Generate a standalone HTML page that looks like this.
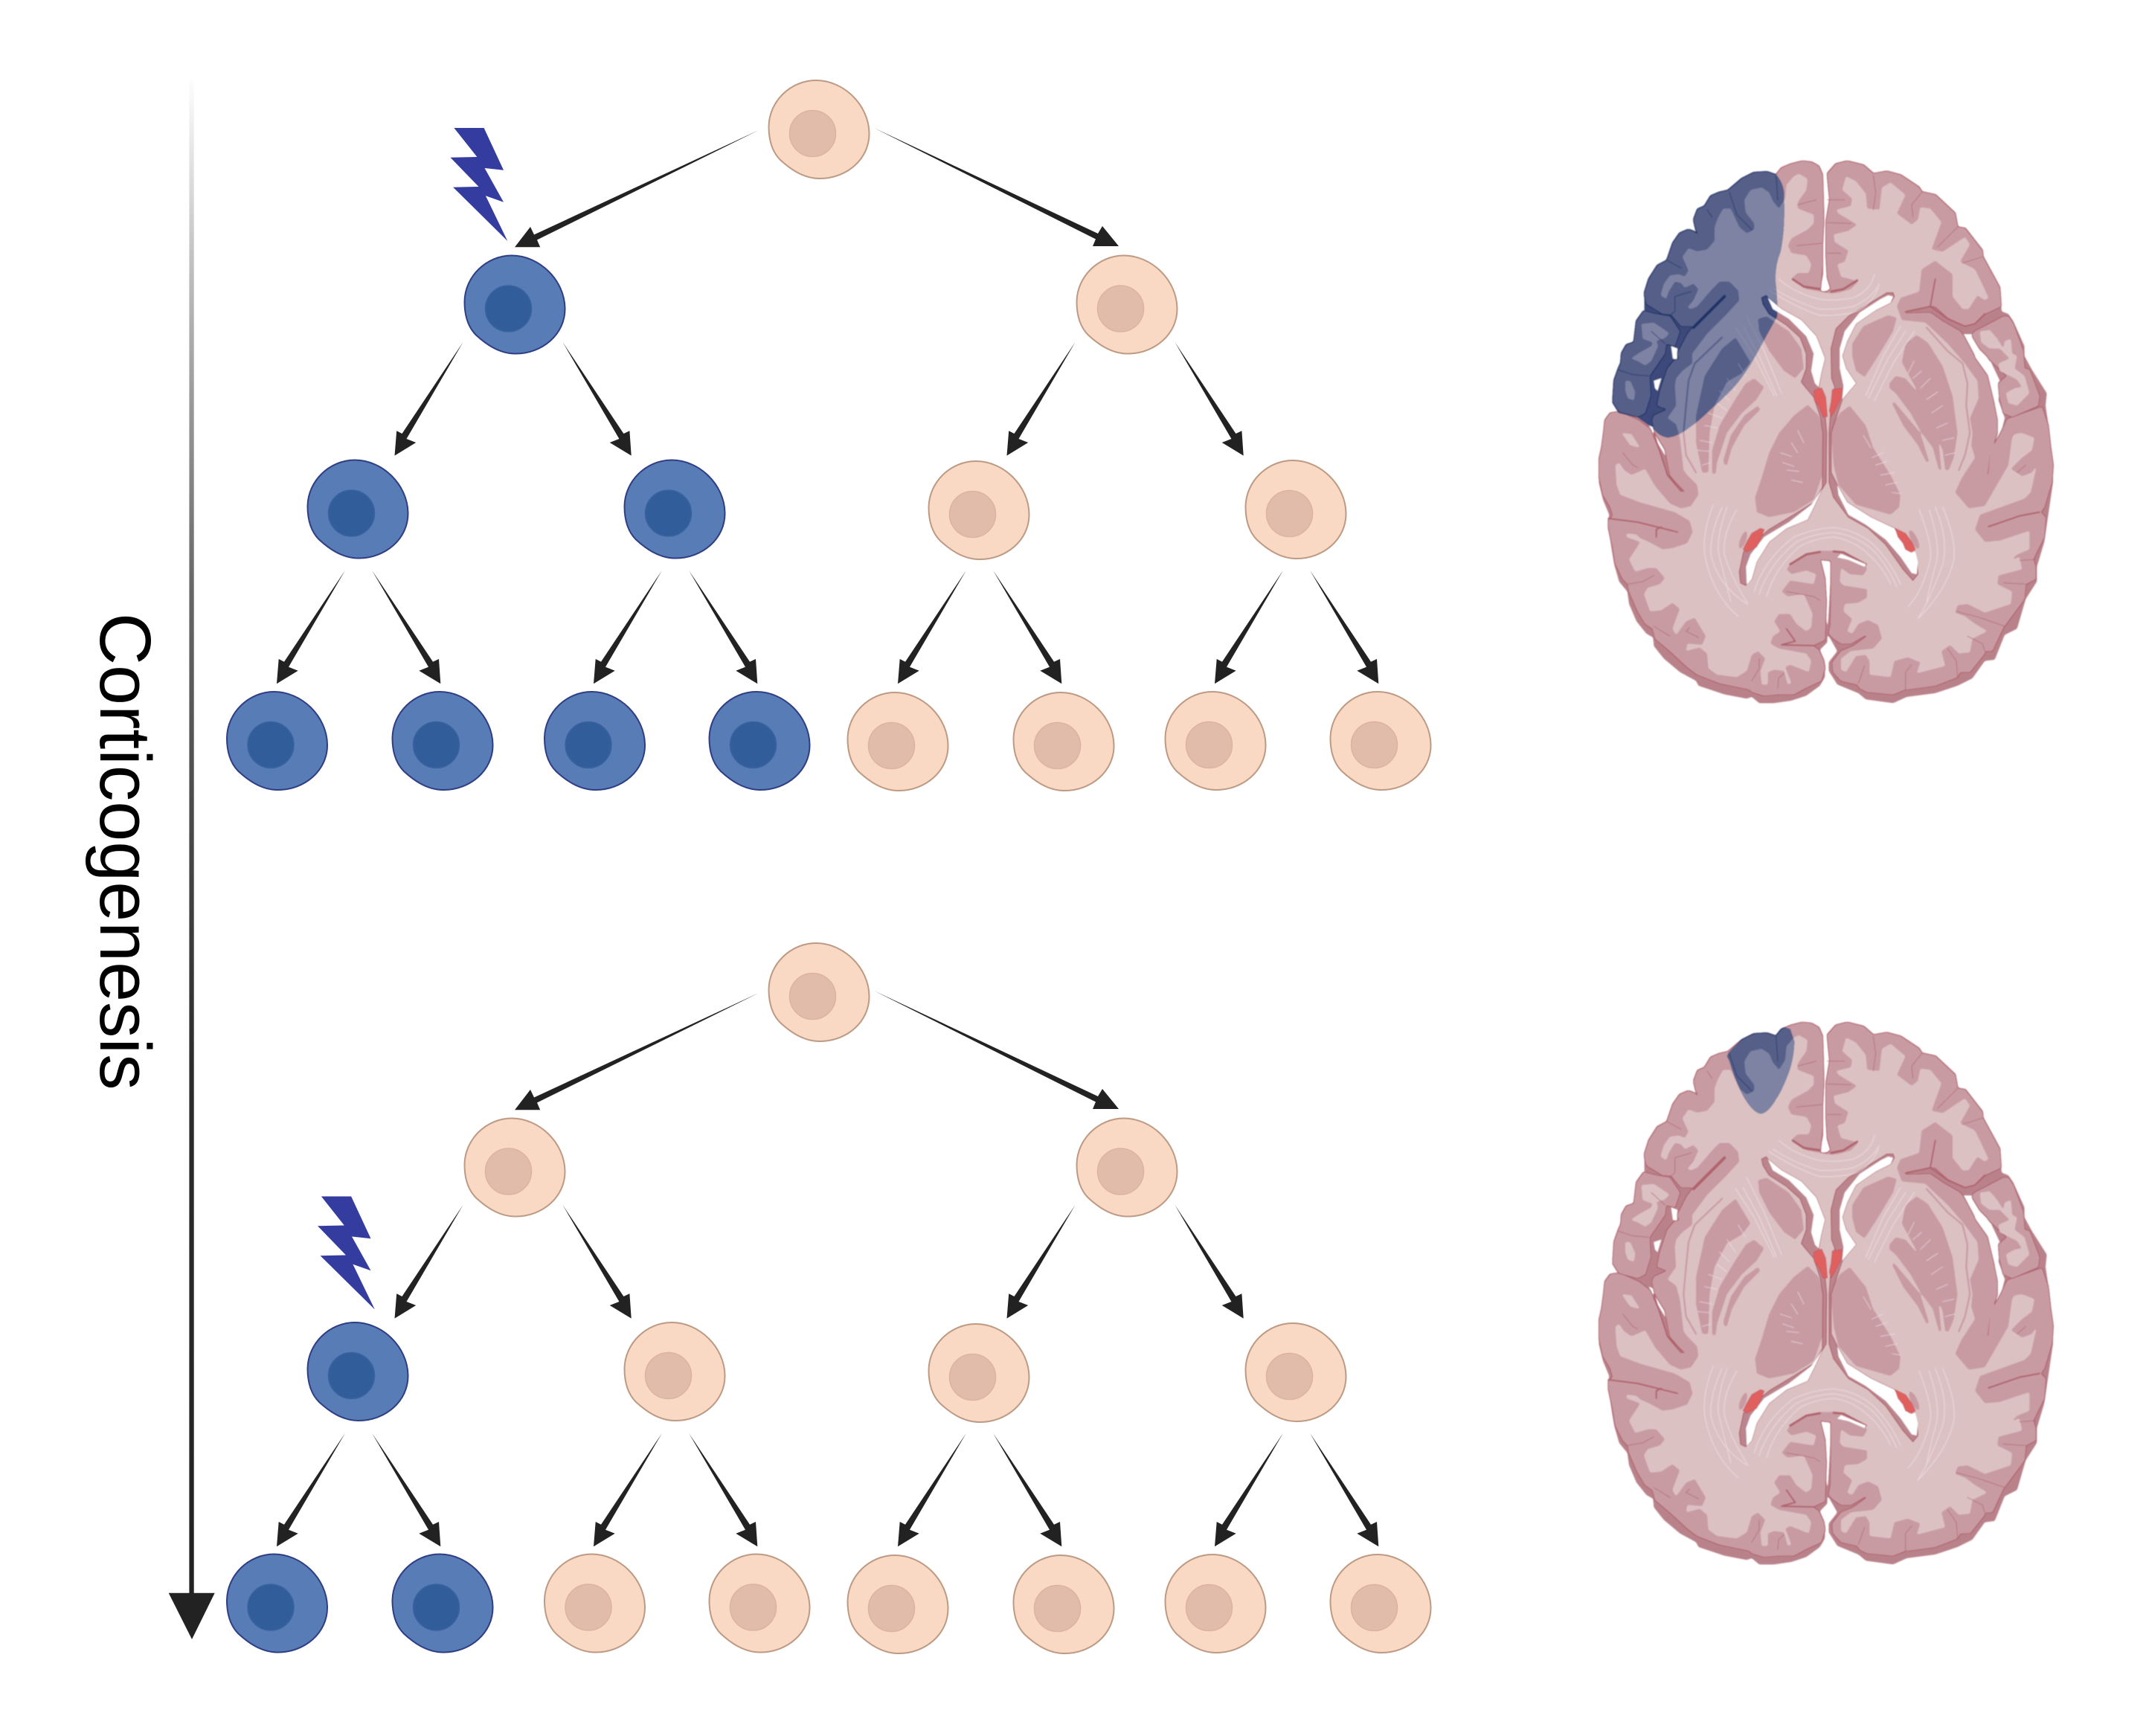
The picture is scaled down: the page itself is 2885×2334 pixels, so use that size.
<!DOCTYPE html>
<html lang="en"><head><meta charset="utf-8"><title>Corticogenesis</title>
<style>
html,body{margin:0;padding:0;background:#fff}
svg{display:block}
.sh{fill:var(--sh,#b9828a)}
.ol{fill:var(--ol,#b0626e)}
.cf{fill:var(--ct,#c89ba2)}
.wm{fill:var(--wm,#dcc1c3)}
.sl{fill:none;stroke:var(--ol,#b0626e);stroke-width:6;stroke-linecap:round;stroke-linejoin:round}
.th{fill:none;stroke:var(--ol,#b0626e);stroke-width:3;stroke-linecap:round;stroke-linejoin:round;opacity:.75}
.bg{fill:var(--ct,#c89ba2)}
.bl{fill:none;stroke:var(--ct,#c89ba2);stroke-width:7;stroke-linecap:round;stroke-linejoin:round}
.rim{fill:var(--sh,#bb858d);stroke:var(--ol,#b0626e);stroke-width:4;stroke-linejoin:round}
.red{fill:var(--rd,#e0605f);stroke:var(--ol,#b84f58);stroke-width:2;stroke-linejoin:round}
.st{fill:none;stroke:var(--sr,#eee2e2);stroke-width:3;stroke-linecap:round;stroke-linejoin:round;opacity:.8}
.alt{--sh:#3c4a7a;--ct:#555f88;--ol:#1c3266;--wm:#7e83a3;--rd:#7e83a3;--sr:#8d92ae}
</style></head>
<body>
<svg xmlns="http://www.w3.org/2000/svg" width="2885" height="2334" viewBox="0 0 2885 2334">
<defs>
<linearGradient id="ax" gradientUnits="userSpaceOnUse" x1="0" y1="100" x2="0" y2="2150">
<stop offset="0" stop-color="#fff"/><stop offset=".135" stop-color="#bbb"/><stop offset=".34" stop-color="#666"/><stop offset=".65" stop-color="#2c2c2c"/><stop offset="1" stop-color="#222"/>
</linearGradient>
<filter id="sm" filterUnits="userSpaceOnUse" x="-50" y="-50" width="2000" height="2400"><feGaussianBlur stdDeviation="2.2"/></filter>
<filter id="g" x="-5%" y="-5%" width="110%" height="110%" color-interpolation-filters="sRGB"><feGaussianBlur stdDeviation="4"/><feComponentTransfer><feFuncA type="linear" slope="10" intercept="-4.5"/></feComponentTransfer></filter>
<filter id="gd" x="-5%" y="-5%" width="110%" height="110%" color-interpolation-filters="sRGB"><feGaussianBlur stdDeviation="4"/><feComponentTransfer><feFuncA type="linear" slope="10" intercept="-4.5"/></feComponentTransfer><feMorphology operator="dilate" radius="3.5"/></filter>

<path id="cs" d="M-4-66C33-66 67-33 67.5 5 68 40 37 66 1 66-22 66-40 52-52 41-63 30-67.5 14-67.5-4-67-38-38-66-4-66Z"/>
<g id="p"><use href="#cs" fill="#f9d8c4" stroke="#bc9a84" stroke-width="2"/><circle cx="-8.5" cy="5.5" r="31" fill="#e2bcaa" stroke="#dcb3a2" stroke-width="1.5"/></g>
<g id="b"><use href="#cs" fill="#587cb5" stroke="#2e3d84" stroke-width="2"/><circle cx="-8.5" cy="5.5" r="31" fill="#315e9b" stroke="#3a649f" stroke-width="1.5"/></g>

<path id="al" fill="#222" d="M0 0L-76 130-63.3 135-92 152.6-89.3 119.3-82 123Z"/>
<path id="ar" fill="#222" d="M0 0L82 123 90 119.3 92.3 152.6 63.3 135 76 130Z"/>
<path id="bl" fill="#222" d="M0 0L-298 147.5-293.8 157.3-328 157.3-307 130-302 140.5Z"/>
<path id="br" fill="#222" d="M0 0L301 142 307 132 329 159 294 159 298 149.5Z"/>

<polygon id="bolt" fill="#343ca0" points="610.4,172 650.6,172 677,228.7 651.5,226 677,271.7 652.9,263.3 682.3,324 609.1,251.7 643.5,251 605.5,211.7 641.3,211"/>

<g id="tree">
<use href="#bl" x="1020" y="175"/><use href="#br" x="1175" y="172"/>
<use href="#al" x="622.5" y="460"/><use href="#ar" x="756.4" y="460"/>
<use href="#al" x="1445.5" y="460"/><use href="#ar" x="1579.4" y="460"/>
<use href="#al" x="464" y="766.7"/><use href="#ar" x="500" y="766.7"/>
<use href="#al" x="890" y="766.7"/><use href="#ar" x="926" y="766.7"/>
<use href="#al" x="1299" y="766.7"/><use href="#ar" x="1335" y="766.7"/>
<use href="#al" x="1725" y="766.7"/><use href="#ar" x="1761" y="766.7"/>
</g>

<clipPath id="cbT"><path d="M0 0H600L726 65Q765 110 760 164Q765 290 746 379Q722 440 726 501Q735 580 733 639Q700 700 691 715Q640 810 622 838Q590 890 554 930Q500 985 457 1022Q420 1060 375 1091Q330 1125 292 1129Q260 1125 237 1098L215 1080 170 1048 95 1030 60 1000 0 1000Z"/></clipPath>
<clipPath id="cbB"><path d="M530 150L537 135 590 80 640 50 690 40 725 60 750 30 785 40 802 90Q800 170 770 240Q745 300 730 320Q695 382 665 382Q630 375 590 300Q560 240 540 170Z"/></clipPath>

<polygon id="pM" points="905,540 915,440 915,350 920,250 918,170 915,70 900,35 870,18 835,14 790,25 750,42 728,70 690,57 640,60 590,85 535,132 500,140 465,155 440,196 412,208 396,250 405,290 420,318 400,300 375,290 340,305 312,345 288,415 250,435 215,490 197,548 205,590 270,630 305,632 345,680 395,680 370,712 330,790 338,815 320,815 290,850 260,940 248,1000 290,1015 235,1040 228,1060 240,1110 280,1175 300,1280 355,1345 345,1350 290,1285 255,1180 220,1095 175,1060 95,1025 60,1030 38,1060 33,1110 25,1170 15,1215 15,1290 30,1360 60,1410 70,1445 52,1460 52,1490 70,1575 80,1640 110,1700 130,1720 135,1750 170,1830 200,1880 230,1900 240,1940 300,1990 370,2055 410,2085 500,2120 620,2145 630,2155 680,2170 735,2165 800,2165 845,2140 910,2110 925,2060 920,2030 900,1985 875,1968 925,1945 930,1790 925,1700 905,1620 950,1625 950,1750 948,1880 940,1920 960,1940 990,1960 1030,1960 1090,1925 1095,1930 1040,1970 990,1990 955,2035 958,2075 990,2110 1055,2125 1065,2140 1095,2155 1200,2165 1250,2145 1260,2145 1370,2130 1460,2095 1470,2075 1510,2075 1570,2000 1570,1990 1600,1990 1645,1895 1730,1780 1735,1720 1775,1700 1775,1650 1765,1620 1810,1530 1815,1450 1795,1430 1810,1410 1840,1310 1845,1240 1835,1170 1825,1080 1800,1005 1660,1055 1635,1110 1595,1180 1585,1280 1510,1350 1520,1358 1578,1290 1588,1200 1620,1110 1620,1060 1605,985 1580,880 1530,810 1525,795 1485,720 1470,700 1400,660 1350,625 1250,628 1248,618 1350,598 1370,600 1420,645 1490,678 1530,668 1570,630 1635,600 1630,525 1562,400 1560,375 1490,285 1460,280 1450,225 1370,150 1315,138 1305,120 1230,70 1175,55 1120,65 1080,30 1015,14 970,25 935,65 945,170 930,260 930,390 935,480 950,530 930,545"/>
<polygon id="pL" points="195,618 165,660 155,745 125,755 105,790 102,830 92,852 75,900 70,985 95,1025 170,1045 200,1030 222,960 218,880 280,790 285,750 320,760 340,700 300,640 240,630"/>
<polygon id="pR" points="1520,710 1530,700 1570,680 1645,640 1665,640 1685,670 1725,780 1730,850 1750,855 1790,960 1785,1000 1680,1045 1645,1030 1630,970 1625,910 1660,880 1590,815 1580,800 1550,770 1520,720"/>

<g id="brain">
<polygon class="sh" filter="url(#g)" points="905,540 918,470 918,350 920,250 918,170 915,70 900,35 870,18 835,14 790,25 750,42 728,70 690,57 640,60 590,85 535,132 500,140 465,155 440,196 412,208 396,250 405,290 420,318 400,300 375,290 340,305 312,345 288,415 250,435 215,490 197,548 197,620 165,660 155,745 125,755 105,790 102,830 92,852 75,900 70,985 95,1035 60,1030 38,1060 33,1110 35,1160 15,1200 13,1310 30,1380 55,1440 50,1480 65,1580 75,1640 95,1710 128,1750 135,1800 165,1870 205,1920 232,1935 235,1970 275,2020 340,2075 405,2110 415,2130 520,2165 610,2182 630,2175 660,2200 720,2200 790,2190 850,2170 905,2130 925,2095 925,2040 905,1985 935,1955 935,1920 925,1790 905,1620 950,1620 945,1750 935,1920 975,1990 940,2035 940,2070 975,2125 1060,2160 1090,2185 1200,2200 1255,2175 1370,2160 1460,2130 1520,2100 1570,2030 1610,2025 1650,1925 1700,1900 1735,1780 1780,1710 1780,1650 1810,1550 1845,1310 1845,1230 1830,1100 1815,1000 1820,950 1760,855 1730,800 1730,760 1685,660 1665,630 1638,620 1630,525 1562,400 1560,375 1490,285 1460,280 1450,225 1370,150 1315,138 1305,120 1230,70 1175,55 1120,65 1080,30 1015,14 970,25 935,65 945,170 930,260 930,390 935,480 950,535"/>
<g fill="#fff">
<polygon points="305,760 330,770 328,815 312,810"/>
<polygon points="235,900 265,890 250,940 240,930"/>
<polygon points="215,1080 240,1090 285,1175 280,1200 250,1150"/>
<polygon points="1485,712 1520,712 1590,815 1630,900 1625,980 1650,1050 1635,1110 1620,1110 1610,990 1580,880 1530,810"/>
<polygon points="1620,1110 1635,1110 1595,1180 1585,1280 1578,1290 1590,1200 1610,1140"/>
</g>
<use href="#pM" class="ol" filter="url(#gd)"/><use href="#pM" class="cf" filter="url(#g)"/>
<use href="#pL" class="ol" filter="url(#gd)"/><use href="#pL" class="cf" filter="url(#g)"/>
<use href="#pR" class="ol" filter="url(#gd)"/><use href="#pR" class="cf" filter="url(#g)"/>
<polygon class="wm" filter="url(#g)" points="950,548 905,540 850,530 800,500 795,482 815,465 860,465 870,430 850,395 790,385 775,355 790,325 855,290 880,265 880,230 815,205 815,180 850,130 855,85 820,65 800,75 770,110 765,165 740,205 715,175 700,140 670,120 625,130 600,170 605,220 640,265 640,290 610,305 580,280 545,205 515,205 495,240 480,280 480,335 450,370 410,378 375,365 350,400 375,455 360,480 335,470 300,475 275,510 262,555 285,570 295,540 320,500 345,505 360,525 395,508 415,530 395,575 370,605 385,610 410,600 470,530 500,500 540,500 575,535 580,575 530,630 450,710 390,790 390,830 350,860 325,890 320,920 325,1000 290,1050 325,1075 340,1130 345,1170 355,1260 370,1280 410,1320 415,1360 385,1405 345,1415 300,1395 240,1325 200,1255 180,1265 145,1280 115,1260 95,1230 80,1240 85,1320 100,1360 180,1390 320,1430 380,1465 392,1510 370,1555 310,1575 270,1580 215,1550 180,1535 165,1520 125,1515 125,1530 180,1550 165,1575 135,1620 160,1670 210,1655 245,1655 280,1695 260,1720 210,1735 195,1760 220,1830 265,1825 310,1795 340,1820 310,1900 325,1925 365,1870 400,1855 445,1930 430,1965 370,1960 365,1990 420,1975 450,2000 455,2060 490,2085 570,2095 610,2070 630,2005 655,1990 685,2020 665,2070 670,2125 695,2125 695,2075 720,2065 760,2070 775,2125 790,2120 765,2055 785,2045 860,2075 870,2030 850,2000 740,1980 705,1960 715,1930 745,1910 720,1870 740,1840 785,1840 810,1880 850,1910 870,1895 875,1840 840,1760 775,1770 750,1750 785,1705 880,1720 890,1680 850,1665 790,1680 770,1660 785,1640 850,1595 905,1585 960,1585 990,1592 1090,1640 1095,1660 1080,1685 1025,1680 990,1655 985,1710 1000,1725 1095,1740 1095,1775 1060,1795 1005,1800 1000,1830 1035,1860 1015,1910 1035,1920 1060,1880 1100,1865 1140,1885 1155,1940 1120,1980 1030,1990 990,2020 990,2065 1010,2075 1050,2010 1090,2005 1105,2030 1105,2085 1190,2095 1205,2030 1260,2015 1310,2035 1295,2080 1410,2050 1395,1990 1430,1965 1465,2000 1510,1995 1520,1940 1580,1910 1530,1880 1490,1850 1450,1835 1460,1805 1500,1800 1570,1835 1630,1815 1675,1800 1680,1750 1620,1720 1625,1685 1720,1660 1710,1610 1675,1625 1700,1600 1750,1580 1750,1505 1630,1545 1570,1550 1530,1500 1550,1440 1730,1375 1755,1350 1780,1240 1760,1270 1720,1285 1675,1255 1720,1210 1760,1180 1770,1130 1720,1110 1690,1115 1680,1130 1665,1240 1570,1405 1505,1415 1450,1350 1475,1295 1530,1210 1515,1160 1520,1110 1510,1050 1545,970 1540,900 1485,825 1420,750 1330,665 1235,655 1215,600 1230,565 1305,540 1315,450 1370,415 1440,470 1440,560 1480,610 1505,610 1540,555 1570,575 1585,565 1550,490 1530,450 1470,420 1510,350 1490,320 1400,380 1355,370 1395,260 1350,205 1310,200 1300,250 1275,270 1215,225 1250,150 1190,100 1155,120 1145,210 1095,205 1090,145 1050,95 1010,75 995,130 1035,165 1030,195 970,210 980,225 1055,270 1020,295 960,310 965,340 1020,375 1005,420 975,430 990,480 1030,490 1060,500 1030,530 980,545"/>
<g filter="url(#g)" class="wm">
<polygon points="185,670 235,665 298,708 280,728 245,738 252,760 225,820 200,838 170,820 142,810 180,785 225,760 230,745 190,730"/>
<polygon points="120,900 140,900 160,945 155,980 130,970 120,940"/>
<polygon points="105,1110 145,1115 180,1170 140,1160"/>
<polygon points="1550,700 1590,695 1620,730 1645,770 1650,740 1675,730 1680,790 1700,800 1690,850 1730,880 1750,950 1700,1000 1665,990 1655,950 1690,930 1720,925 1700,895 1630,860 1625,830 1670,810 1630,770 1590,770 1555,745"/>
</g>
<path class="sl" style="stroke-width:12" d="M520 560L460 620 395 685"/>
<path class="sl" style="stroke-width:9" d="M795 490L840 520 905 530M1055 495L1000 530 950 540M785 1640L850 1600 905 1590M960 1588L1000 1592 1090 1640"/>
<path class="sl" d="M52 1455L170 1470 330 1510M265 1490L245 1500 245 1530M235 1110L290 1280 355 1345M770 1900L805 1950 750 1965 880 1968M1585 1488L1710 1445 1790 1430M1250 622L1350 600 1370 490 1350 600 1420 650 1490 680 1530 670 1570 630"/>
<path class="th" d="M305 632L320 620 320 560 385 540M345 445L290 415M90 855L150 875 215 880M280 750L225 700M728 70L735 170M540 140L570 230 630 290M915 345L810 355M890 170L815 190M450 210L470 240M235 1685L190 1710 130 1720M770 1750L880 1770 905 1785M365 1910L415 1935M380 1895L365 1910M630 2110L660 2060 660 2020M735 2140L738 2100 760 2080M1060 2120L1085 2050M1250 2145L1250 2075 1275 2045M1460 2095L1455 2030 1420 1980M1570 1990L1560 1960 1500 1930M1650 1890L1550 1855 1455 1830M1775 1620L1710 1625M1735 1720L1645 1715M1560 400L1480 425M1460 280L1380 360M1315 140L1275 190 1280 240M1120 70L1130 140 1120 210M935 170L1005 170M935 262L1030 265M935 385L990 385M110 1190L150 1240 170 1250M1735 1240L1700 1270M300 1930L235 1890"/>
<g class="bg" filter="url(#g)">
<polygon points="655,650 690,640 780,700 830,770 840,850 805,890 760,860 700,780 660,700"/>
<polygon points="1035,750 1080,680 1180,635 1215,645 1200,700 1140,800 1085,885 1050,860 1035,800"/>
<polygon points="856,996 800,1040 740,1110 700,1190 670,1290 643,1370 650,1430 700,1450 800,1430 880,1380 915,1280 917,1110 900,1040"/>
<polygon points="950,1110 960,1240 980,1320 1050,1400 1190,1440 1225,1410 1230,1360 1190,1280 1120,1170 1090,1080 1025,1000 985,1030 950,1090"/>
<polygon points="565,725 625,825 590,870 530,905 480,1000 460,1110 455,1270 430,1270 405,1150 405,1040 440,880 510,770"/>
<polygon points="640,890 680,925 650,975 590,1030 530,1110 490,1230 485,1275 470,1275 470,1180 500,1080 560,980 605,910"/>
<polygon points="655,1000 665,1015 600,1080 550,1170 530,1240 520,1240 515,1220 545,1120 600,1040"/>
<polygon points="1235,825 1250,750 1295,715 1340,745 1400,840 1440,960 1460,1110 1445,1210 1425,1260 1410,1260 1400,1180 1370,1110 1320,980 1270,890"/>
<polygon points="1185,910 1210,880 1250,890 1310,960 1350,1050 1380,1110 1395,1260 1385,1260 1360,1170 1315,1110 1270,1030 1210,950 1185,930"/>
<polygon points="1195,990 1205,985 1260,1050 1310,1110 1345,1225 1335,1230 1300,1160 1240,1080"/>
</g>
<path class="bl" d="M510 725L400 830 375 900 365 1000 355 1110 365 1200 405 1270"/>
<path class="bl" d="M1335 685L1420 780 1480 830 1500 910 1495 1000 1510 1110 1490 1200 1465 1260"/>
<ellipse class="bg" cx="595" cy="1542" rx="12" ry="36" transform="rotate(20 595 1542)"/>
<ellipse class="bg" cx="1285" cy="1540" rx="13" ry="40" transform="rotate(-25 1285 1540)"/>
<polygon class="rim" points="670,565 675,590 700,630 770,675 825,725 850,790 850,850 830,905 850,930 880,965 905,1040 917,1110 915,1330 880,1390 800,1440 700,1500 640,1550 597,1590 580,1670 585,1715 605,1725 630,1700 650,1630 700,1550 770,1495 855,1460 880,1410 915,1335 930,1310 932,1110 925,1030 900,930 910,870 925,810 890,720 830,655 750,610 695,565 688,556"/>
<polygon class="rim" points="1200,545 1175,545 1110,585 1020,640 970,690 950,770 952,890 965,925 950,1000 942,1110 942,1310 960,1370 1020,1450 1100,1495 1170,1560 1240,1660 1280,1705 1300,1680 1295,1620 1265,1590 1205,1495 1110,1450 1015,1390 975,1320 950,1270 950,1110 995,975 1020,945 1050,910 1010,850 995,800 1015,740 1050,670 1130,615 1190,585 1205,560"/>
<g fill="#fff">
<polygon points="695,565 750,610 830,655 890,720 925,810 910,870 900,925 885,910 870,860 880,790 850,720 780,650 715,610"/>
<polygon points="915,1335 880,1410 855,1460 770,1495 700,1550 650,1630 630,1700 610,1722 607,1650 625,1600 680,1530 780,1470 870,1400"/>
<polygon points="1200,560 1190,585 1130,615 1050,670 1015,740 995,800 1010,850 1050,910 1020,945 995,975 1000,920 985,850 985,770 1005,700 1065,625 1150,570 1180,555"/>
<polygon points="975,1320 1015,1390 1110,1450 1205,1495 1230,1540 1265,1590 1290,1590 1300,1630 1295,1680 1275,1675 1230,1610 1170,1540 1090,1480 1020,1440 980,1360"/>
<polygon points="990,1598 1090,1640 1085,1650 1020,1622 975,1612"/>
</g>
<polygon class="red" points="880,940 912,928 928,965 935,1045 918,1045 900,1000 882,978"/>
<polygon class="red" points="955,935 995,930 990,970 965,1020 950,1045 943,1020 950,985"/>
<polygon class="red" points="665,1495 680,1500 665,1540 650,1570 610,1590 595,1580 610,1550 630,1515"/>
<polygon class="red" points="1208,1495 1250,1515 1275,1550 1290,1580 1275,1592 1250,1580 1240,1555 1220,1530"/>
<path class="st" d="M740 490Q800 545 900 570 960 580 1040 565 1110 535 1125 470M715 525Q800 580 900 610 960 615 1040 600 1110 570 1145 510M700 535Q800 600 900 635 960 640 1040 625 1110 600 1140 525"/>
<path class="st" d="M640 1750Q680 1620 800 1530 880 1495 960 1492 1050 1500 1120 1560 1190 1630 1230 1720M660 1760Q700 1640 810 1550 880 1515 960 1512 1040 1520 1110 1575 1170 1630 1215 1730M690 1770Q720 1660 820 1570 880 1535 960 1530 1030 1540 1090 1590 1160 1650 1190 1720"/>
<path class="st" d="M610 640L680 780 750 950M595 680L660 800 730 960M565 685L640 800 720 960M1230 680L1160 800 1090 960M1250 700L1180 810 1100 970M1285 700L1200 830 1125 980"/>
<path class="st" d="M475 1400Q430 1510 440 1600 470 1760 575 1850M510 1410Q460 1520 465 1600 490 1720 610 1800M530 1410Q490 1520 495 1590 520 1690 545 1790M570 1420Q510 1520 520 1600 540 1680 615 1800M1305 1420Q1360 1560 1350 1620 1320 1750 1260 1810M1345 1420Q1390 1550 1375 1630 1340 1760 1335 1800M1370 1410Q1425 1540 1400 1640 1350 1780 1300 1860M1400 1410Q1455 1540 1445 1620 1420 1740 1300 1860"/>
<path class="st" style="stroke-width:2.5" d="M790 1300L835 1310M770 1260L820 1265M755 1230L800 1245M745 1190L790 1205M790 1150L815 1190M815 1100L840 1150M1080 1120L1110 1170M1115 1210L1160 1190M1130 1240L1175 1225M1150 1280L1205 1270M1170 1320L1215 1310M1195 1350L1230 1355M440 1080L490 1090M455 1030L510 1050M490 990L530 1020M500 940L540 980M530 890L565 940M575 830L605 880M410 1180L460 1185M420 1140L470 1150M430 1240L465 1230M1285 820L1260 870M1315 860L1280 890M1350 890L1310 930M1380 945L1335 975M1400 1000L1355 1030M1420 1070L1375 1090M1445 1130L1400 1140M1450 1190L1410 1200"/>
</g>
</defs>

<rect width="2885" height="2334" fill="#fff"/>

<rect x="254.4" y="100" width="6.3" height="2045" fill="url(#ax)"/>
<polygon points="226.7,2141.7 288.7,2141.7 258,2204" fill="#222"/>
<text transform="translate(135,824) rotate(90)" font-family="'Liberation Sans',Arial,sans-serif" font-size="97" fill="#000">Corticogenesis</text>

<use href="#tree"/>
<use href="#tree" y="1160"/>

<use href="#bolt"/>
<use href="#bolt" x="-178.5" y="1436.5"/>

<!-- top tree cells -->
<use href="#p" x="1101" y="174"/>
<use href="#b" x="692" y="409.5"/><use href="#p" x="1515" y="409.5"/>
<use href="#b" x="481" y="684.5"/><use href="#b" x="907" y="684.5"/><use href="#p" x="1316" y="686"/><use href="#p" x="1742" y="685"/>
<use href="#b" x="372.5" y="996"/><use href="#b" x="595" y="996"/><use href="#b" x="799.5" y="996"/><use href="#b" x="1021" y="996"/>
<use href="#p" x="1207" y="997"/><use href="#p" x="1430" y="997"/><use href="#p" x="1634" y="996"/><use href="#p" x="1856" y="996"/>

<!-- bottom tree cells -->
<use href="#p" x="1101" y="1334"/>
<use href="#p" x="692" y="1569.5"/><use href="#p" x="1515" y="1569.5"/>
<use href="#b" x="481" y="1844"/><use href="#p" x="907" y="1844"/><use href="#p" x="1316" y="1846"/><use href="#p" x="1742" y="1845"/>
<use href="#b" x="372.5" y="2155.5"/><use href="#b" x="595" y="2155.5"/><use href="#p" x="799.5" y="2155.5"/><use href="#p" x="1021" y="2155.5"/>
<use href="#p" x="1207" y="2157"/><use href="#p" x="1430" y="2157"/><use href="#p" x="1634" y="2156"/><use href="#p" x="1856" y="2156"/>

<!-- brains -->
<g transform="translate(2145,212) scale(.33333)"><g filter="url(#sm)"><use href="#brain"/><g clip-path="url(#cbT)"><use href="#brain" class="alt"/></g></g></g>
<g transform="translate(2145,1370) scale(.33333)"><g filter="url(#sm)"><use href="#brain"/><g clip-path="url(#cbB)"><use href="#brain" class="alt"/></g></g></g>
</svg>
</body></html>
